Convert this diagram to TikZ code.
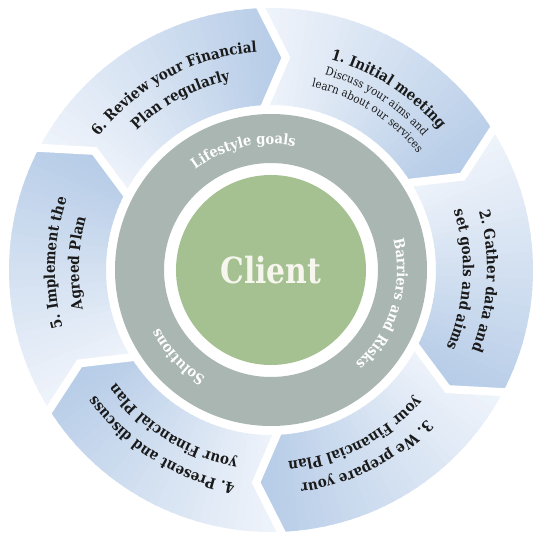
\documentclass[tikz,border=0pt]{standalone}
\usepackage{fontspec}
\setmainfont{DejaVu Serif Condensed}
\usetikzlibrary{decorations.text}
\definecolor{seglight}{HTML}{F1F5FB}
\definecolor{segdark}{HTML}{B5CBE7}
\definecolor{greyring}{HTML}{AAB6B1}
\definecolor{greenc}{HTML}{A5C191}
\definecolor{clientc}{HTML}{F6F6EE}
\definecolor{txt}{HTML}{1A1A1A}
\newcommand\steptitlefont{\fontsize{15}{17}\selectfont\bfseries}
\newcommand\stepbodyfont{\fontsize{11.5}{13}\selectfont}
\newcommand\ringlabelfont{\fontsize{14.5}{16}\selectfont\bfseries}
\tikzset{
  steptitle/.style={decorate, decoration={text along path, text align=center, text color=txt, text={|\steptitlefont|#1}}},
  stepbody/.style={decorate, decoration={text along path, text align=center, text color=txt, text={|\stepbodyfont|#1}}},
  ringlabel/.style={decorate, decoration={text along path, text align=center, text color=white, text={|\ringlabelfont|#1}}},
  gapline/.style={draw=white, line width=8pt, line join=miter},
}
\newcommand\arclabel[4]{%
  \path[#1={#4}] ({#2+50}:#3) arc[start angle={#2+50}, end angle={#2-50}, radius=#3];%
}
\def\Ro{262}
\def\Ri{165}
\def\Rm{213}
\begin{document}
\begin{tikzpicture}[x=1pt,y=1pt]
\useasboundingbox (-271,-273) rectangle (272,270);
% chevron segments with angular gradient
\foreach \s in {93,33,-27,-87,-147,-207}{
  \begin{scope}
    \clip (\s:\Ro) arc[start angle=\s, end angle=\s-60, radius=\Ro] -- (\s-67:\Rm) -- (\s-60:\Ri)
      arc[start angle=\s-60, end angle=\s, radius=\Ri] -- (\s-7:\Rm) -- cycle;
    \foreach \j in {0,...,33}{
      \pgfmathsetmacro\a{\s+1-2*\j}
      \pgfmathtruncatemacro\p{\j*3}
      \fill[segdark!\p!seglight] (0,0) -- (\a:290) arc[start angle=\a, end angle=\a-2.4, radius=290] -- cycle;
    }
  \end{scope}
}
% white gaps between segments
\foreach \b in {93,33,-27,-87,-147,-207}{
  \draw[gapline] (\b:\Ro+8) -- (\b-7:\Rm) -- (\b:\Ri-6);
}
% grey ring and centre
\fill[greyring, even odd rule] (0,0) circle[radius=156] (0,0) circle[radius=107];
\fill[greenc] (0,0) circle[radius=95];
\node[text=clientc, font=\fontsize{36}{40}\selectfont\bfseries] (client) at (0,0) {\scalebox{0.92}[1]{Client}};
% ring labels
\arclabel{ringlabel}{103}{126}{Lifestyle goals}
\arclabel{ringlabel}{-17}{126}{Barriers and Risks}
\arclabel{ringlabel}{223}{126}{Solutions}
% step labels
\arclabel{steptitle}{57}{219}{1. Initial meeting}
\arclabel{stepbody}{58}{202.5}{Discuss your aims and}
\arclabel{stepbody}{58}{187.5}{learn about our services}
\arclabel{steptitle}{-3}{216}{2. Gather data and}
\arclabel{steptitle}{-3}{192}{set goals and aims}
\arclabel{steptitle}{-63}{216}{3. We prepare your}
\arclabel{steptitle}{-63}{192}{your Financial Plan}
\arclabel{steptitle}{238}{216}{4. Present and discuss}
\arclabel{steptitle}{238}{192}{your Financial Plan}
\arclabel{steptitle}{178}{216}{5. Implement the}
\arclabel{steptitle}{178}{192}{Agreed Plan}
\arclabel{steptitle}{118}{218}{6. Review your Financial}
\arclabel{steptitle}{118}{194}{Plan regularly}
\end{tikzpicture}
\end{document}
